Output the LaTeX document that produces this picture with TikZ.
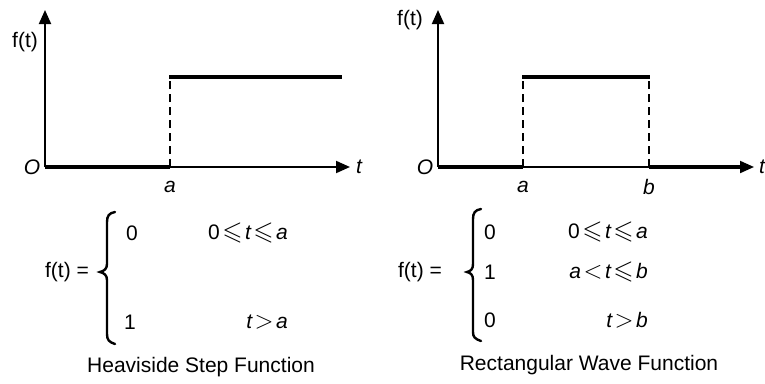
\documentclass[tikz,border=0pt]{standalone}
\usepackage{amssymb}
\usepackage{fontspec}
\setmainfont{Liberation Sans}
\usetikzlibrary{arrows.meta}
\newcommand{\rleq}{\kern2.5pt{\fontsize{26}{26}\selectfont$\leqslant$}\kern2.5pt}
\newcommand{\rlt}{\kern2.5pt{\fontsize{26}{26}\selectfont$<$}\kern2.5pt}
\newcommand{\rgt}{\kern2.5pt{\fontsize{26}{26}\selectfont$>$}\kern2.5pt}
\begin{document}
\begin{tikzpicture}[x=1pt,y=-1pt,
  lbl/.style={inner sep=0pt,font=\fontsize{21}{24}\selectfont},
  axis/.style={line width=2pt,-{Triangle[length=14pt,width=12pt]}},
  thickl/.style={line width=3.6pt},
  dashline/.style={line width=1.8pt,dash pattern=on 8pt off 5pt},
  bracel/.style={line width=2.4pt,line cap=round}]
\useasboundingbox (0,0) rectangle (765,383);
% ---------- left plot
\coordinate (L0) at (45,167);
\coordinate (Ly) at (45,10);
\coordinate (Lx) at (350,167);
\coordinate (La) at (170,167);
\coordinate (Lat) at (170,77);
\coordinate (Le) at (342,77);
\draw[axis] (L0) -- (Ly);
\draw[axis] (L0) -- (Lx);
\draw[thickl] (L0) -- (La);
\draw[dashline] (La) -- (Lat);
\draw[thickl,line cap=butt] ([xshift=-0.9pt]Lat) -- (Le);
\node[lbl] (Lf) at (25,42) {f(t)};
\node[lbl] (LO) at (32,167) {\itshape O};
\node[lbl] (Lt) at (359,167) {\itshape t};
\node[lbl] (Lal) at (170,187) {\itshape a};
% ---------- right plot
\coordinate (R0) at (438,167);
\coordinate (Ry) at (438,10);
\coordinate (Rx) at (754,167);
\coordinate (Ra) at (523,167);
\coordinate (Rat) at (523,77);
\coordinate (Rb) at (649,167);
\coordinate (Rbt) at (649,77);
\draw[axis] (R0) -- (Ry);
\draw[axis] (R0) -- (Rx);
\draw[thickl] (R0) -- (Ra);
\draw[thickl] (Rb) -- (744,167);
\draw[dashline] (Ra) -- (Rat);
\draw[dashline] (Rb) -- (Rbt);
\draw[thickl] ([xshift=-0.9pt]Rat) -- ([xshift=0.9pt]Rbt);
\node[lbl] (Rf) at (410,20) {f(t)};
\node[lbl] (RO) at (425,167) {\itshape O};
\node[lbl] (Rt) at (762,167) {\itshape t};
\node[lbl] (Ral) at (523,187) {\itshape a};
\node[lbl] (Rbl) at (649,187) {\itshape b};
% ---------- left equation
\node[lbl] (Lfe) at (67,272) {f(t) =};
\draw[bracel] (115,212) .. controls (109,213) and (107,216) .. (107,222) -- (107,264)
  .. controls (107,269) and (104,271) .. (100,272)
  .. controls (104,273) and (107,275) .. (107,280) -- (107,334)
  .. controls (107,340) and (109,342) .. (115,344);
\node[lbl] (L1a) at (132,233) {0};
\node[lbl] (L1b) at (130,322) {1};
\node[lbl,anchor=east] (L2a) at (288,233) {0\rleq\itshape t\upshape\rleq\itshape a};
\node[lbl,anchor=east] (L2b) at (288,322) {\itshape t\upshape\rgt\itshape a};
\node[lbl] (Lcap) at (201,367) {Heaviside Step Function};
% ---------- right equation
\node[lbl] (Rfe) at (420,272) {f(t) =};
\draw[bracel] (481,209) .. controls (475,210) and (473,213) .. (473,219) -- (473,264)
  .. controls (473,269) and (471,271) .. (467,272)
  .. controls (471,273) and (473,275) .. (473,280) -- (473,332)
  .. controls (473,337) and (475,339) .. (481,341);
\node[lbl] (R1a) at (490,232) {0};
\node[lbl] (R1b) at (490,272) {1};
\node[lbl] (R1c) at (490,320) {0};
\node[lbl,anchor=east] (R2a) at (648,232) {0\rleq\itshape t\upshape\rleq\itshape a};
\node[lbl,anchor=east] (R2b) at (648,272) {\itshape a\upshape\rlt\itshape t\upshape\rleq\itshape b};
\node[lbl,anchor=east] (R2c) at (648,320) {\itshape t\upshape\rgt\itshape b};
\node[lbl] (Rcap) at (589,365) {Rectangular Wave Function};
\end{tikzpicture}
\end{document}
